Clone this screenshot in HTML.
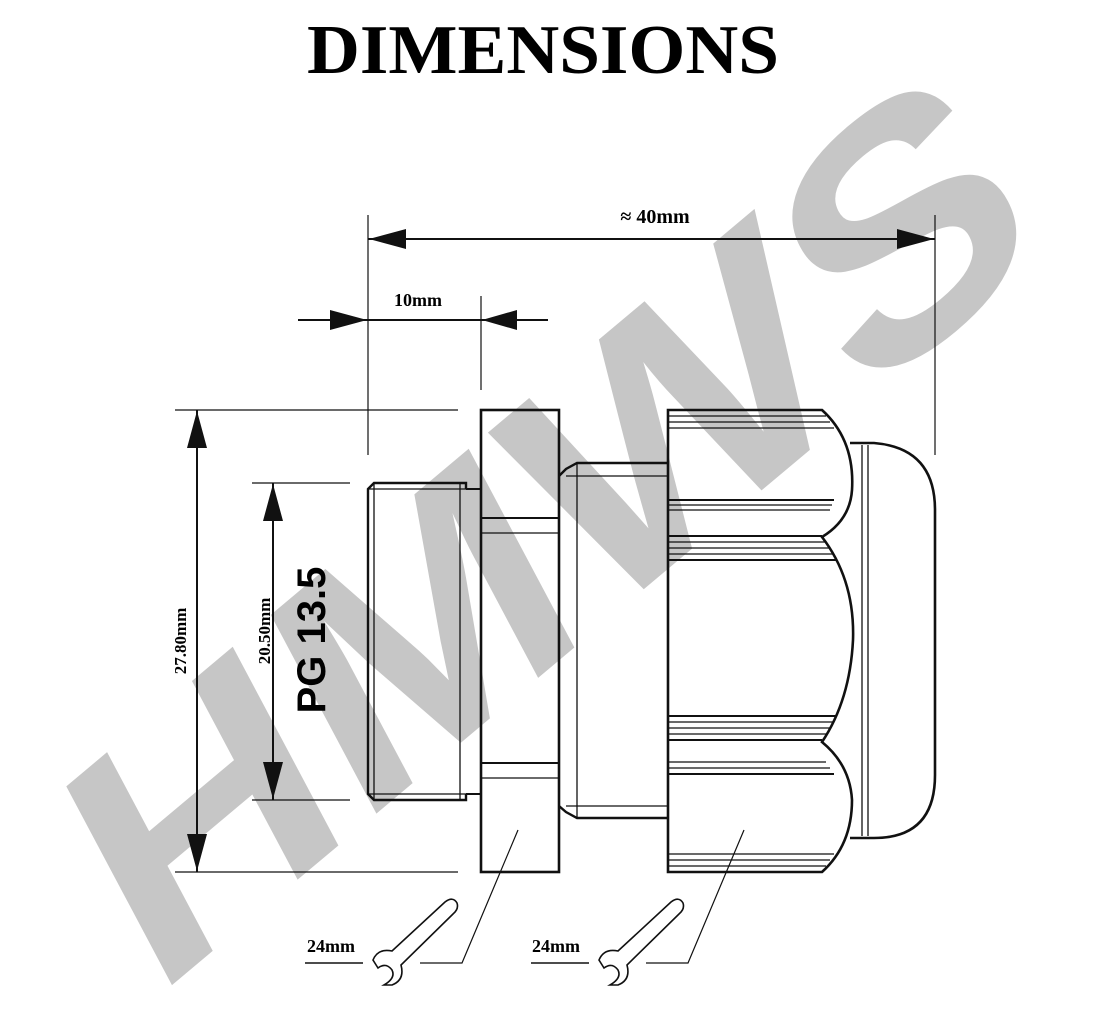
<!DOCTYPE html>
<html><head><meta charset="utf-8"><style>html,body{margin:0;padding:0;background:#fff;overflow:hidden;width:1103px;height:1023px}svg{display:block}</style></head>
<body>
<svg width="1103" height="1023" viewBox="0 0 1103 1023" xmlns="http://www.w3.org/2000/svg" overflow="hidden">
<rect width="1103" height="1023" fill="#fff"/>
<text x="543" y="73" font-family="Liberation Serif, serif" font-weight="bold" font-size="70" text-anchor="middle" textLength="472" lengthAdjust="spacingAndGlyphs">DIMENSIONS</text>

<text x="0" y="0" transform="translate(548,525) rotate(-40) skewX(-12)" font-family="Liberation Sans, sans-serif" font-weight="bold" font-size="320" fill="#c6c6c6" text-anchor="middle" dominant-baseline="central" textLength="1170" lengthAdjust="spacingAndGlyphs">HMWS</text>

<g stroke="#111" fill="none">
<g stroke-width="1.2">
<line x1="368" y1="215" x2="368" y2="455"/>
<line x1="481" y1="296" x2="481" y2="390"/>
<line x1="935" y1="215" x2="935" y2="455"/>
<line x1="175" y1="410" x2="458" y2="410"/>
<line x1="175" y1="872" x2="458" y2="872"/>
<line x1="252" y1="483" x2="350" y2="483"/>
<line x1="252" y1="800" x2="350" y2="800"/>
</g>
<g stroke-width="2">
<line x1="368" y1="239" x2="935" y2="239"/>
<line x1="298" y1="320" x2="548" y2="320"/>
<line x1="197" y1="410" x2="197" y2="872"/>
<line x1="273" y1="483" x2="273" y2="800"/>
</g>
</g>
<g fill="#111">
<polygon points="369,239 406,229 406,249"/>
<polygon points="934,239 897,229 897,249"/>
<polygon points="367,320 330,310 330,330"/>
<polygon points="482,320 517,310 517,330"/>
<polygon points="197,411 187,448 207,448"/>
<polygon points="197,871 187,834 207,834"/>
<polygon points="273,484 263,521 283,521"/>
<polygon points="273,799 263,762 283,762"/>
</g>
<text x="655" y="223" font-family="Liberation Serif, serif" font-weight="bold" font-size="20" text-anchor="middle">≈ 40mm</text>
<text x="418" y="306" font-family="Liberation Serif, serif" font-weight="bold" font-size="18" text-anchor="middle">10mm</text>
<text transform="translate(186,641) rotate(-90)" font-family="Liberation Serif, serif" font-weight="bold" font-size="17" text-anchor="middle">27.80mm</text>
<text transform="translate(270,631) rotate(-90)" font-family="Liberation Serif, serif" font-weight="bold" font-size="17" text-anchor="middle">20.50mm</text>
<text transform="translate(325,640) rotate(-90)" font-family="Liberation Sans, sans-serif" font-weight="bold" font-size="40" text-anchor="middle">PG 13.5</text>

<g stroke="#111" fill="none" stroke-width="1.3">
<path d="M466,489 L466,483 L374,483 L368,489 L368,794 L374,800 L466,800 L466,794" stroke-width="2.4"/>
<line x1="374" y1="483" x2="374" y2="800"/>
<line x1="460" y1="483" x2="460" y2="800"/>
<line x1="368" y1="489" x2="466" y2="489"/>
<line x1="368" y1="794" x2="466" y2="794"/>
<path d="M466,489 L481,489 M466,794 L481,794" stroke-width="2"/>
<rect x="481" y="410" width="78" height="462" stroke-width="2.6"/>
<line x1="481" y1="518" x2="559" y2="518" stroke-width="2"/>
<line x1="481" y1="533" x2="559" y2="533"/>
<line x1="481" y1="763" x2="559" y2="763" stroke-width="2"/>
<line x1="481" y1="778" x2="559" y2="778"/>
<path d="M559,476 L566,469 L577,463 L668,463" stroke-width="2.4"/>
<path d="M559,806 L566,812 L577,818 L668,818" stroke-width="2.4"/>
<line x1="566" y1="476" x2="668" y2="476"/>
<line x1="566" y1="806" x2="668" y2="806"/>
<line x1="577" y1="463" x2="577" y2="818"/>
<path d="M668,410 L822,410 Q855,440 852,490 Q850,520 822,537 Q855,580 853,640 Q850,700 822,742 Q850,765 852,800 Q852,845 822,872 L668,872 Z" stroke-width="2.6"/>
<line x1="668" y1="416" x2="826" y2="416"/>
<line x1="668" y1="422" x2="830" y2="422"/>
<line x1="668" y1="428" x2="834" y2="428"/>
<line x1="668" y1="500" x2="834" y2="500" stroke-width="2"/>
<line x1="668" y1="505" x2="832" y2="505"/>
<line x1="668" y1="510" x2="830" y2="510"/>
<line x1="668" y1="536" x2="822" y2="536" stroke-width="2"/>
<line x1="668" y1="542" x2="826" y2="542"/>
<line x1="668" y1="548" x2="830" y2="548"/>
<line x1="668" y1="554" x2="834" y2="554"/>
<line x1="668" y1="560" x2="836" y2="560" stroke-width="2"/>
<line x1="668" y1="716" x2="836" y2="716" stroke-width="2"/>
<line x1="668" y1="722" x2="834" y2="722"/>
<line x1="668" y1="728" x2="830" y2="728"/>
<line x1="668" y1="734" x2="826" y2="734"/>
<line x1="668" y1="740" x2="822" y2="740" stroke-width="2"/>
<line x1="668" y1="762" x2="826" y2="762"/>
<line x1="668" y1="768" x2="830" y2="768"/>
<line x1="668" y1="774" x2="834" y2="774" stroke-width="2"/>
<line x1="668" y1="854" x2="834" y2="854"/>
<line x1="668" y1="860" x2="830" y2="860"/>
<line x1="668" y1="866" x2="826" y2="866"/>
<path d="M850,443 L874,443 Q935,448 935,510 L935,775 Q935,838 874,838 L850,838" stroke-width="2.6"/>
<line x1="862" y1="445" x2="862" y2="836"/>
<line x1="868" y1="445" x2="868" y2="836"/>
<path d="M518,830 L462,963 L420,963" stroke-width="1.2"/>
<path d="M744,830 L688,963 L646,963" stroke-width="1.2"/>
<line x1="305" y1="963" x2="363" y2="963" stroke-width="1.5"/>
<line x1="531" y1="963" x2="589" y2="963" stroke-width="1.5"/>
<g id="w" stroke-width="1.6">
<path d="M373,960 Q378,948 392,951 L445,902 Q453,896 457,903 Q459,909 453,914 L401,965 Q405,980 392,985 L384,985 Q396,978 392,970 Q386,962 378,968 Z"/>
</g>
<use href="#w" transform="translate(226,0)"/>
</g>
<text x="331" y="952" font-family="Liberation Serif, serif" font-weight="bold" font-size="18" text-anchor="middle">24mm</text>
<text x="556" y="952" font-family="Liberation Serif, serif" font-weight="bold" font-size="18" text-anchor="middle">24mm</text>
</svg>
</body></html>
